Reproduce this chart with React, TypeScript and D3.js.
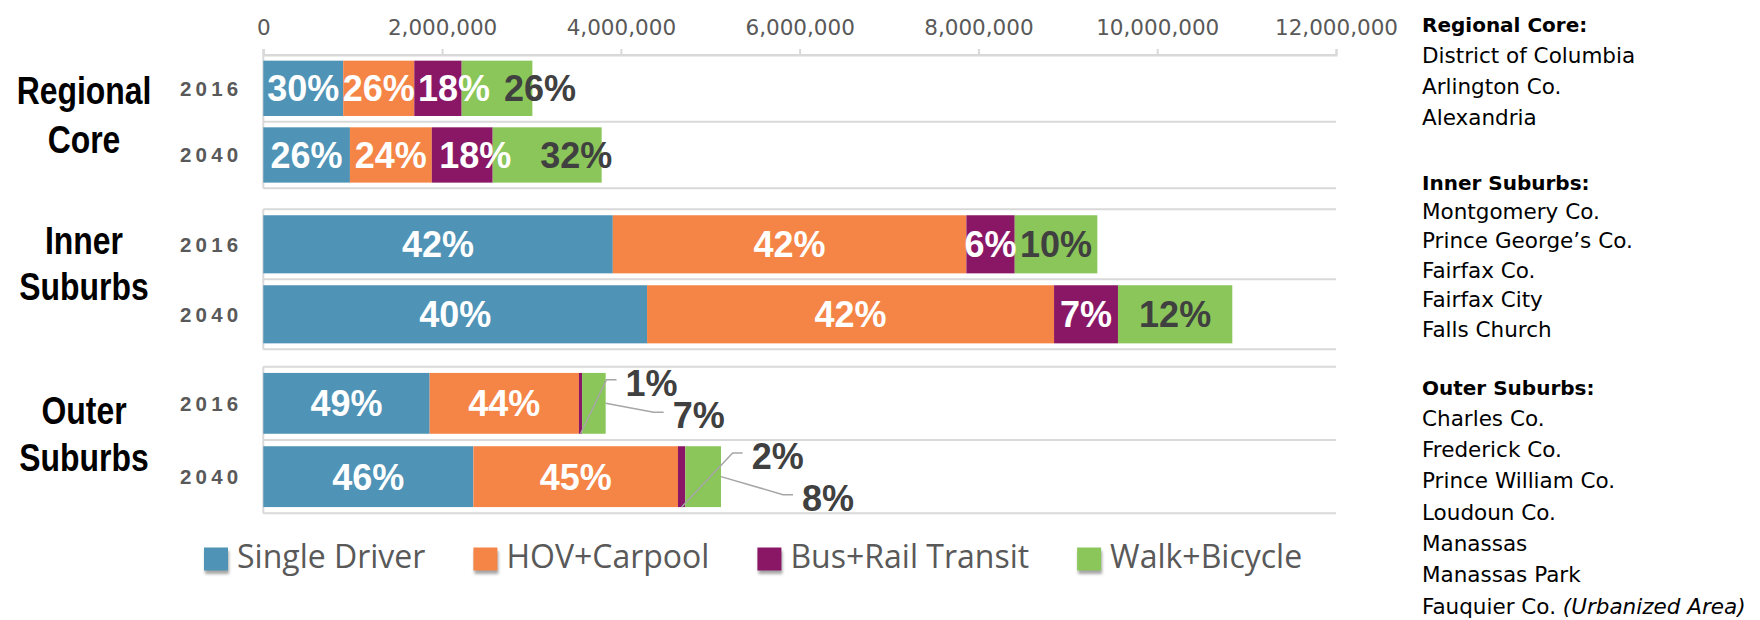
import React, { useEffect, useRef } from 'react';
import * as d3 from 'd3';

// daily trips by mode, [2016, 2040] for each region
const regions = ['Regional Core', 'Inner Suburbs', 'Outer Suburbs'];
const regionLines = [['Regional', 'Core'], ['Inner', 'Suburbs'], ['Outer', 'Suburbs']];
const years = ['2016', '2040'];
const modes = ['Single Driver', 'HOV+Carpool', 'Bus+Rail Transit', 'Walk+Bicycle'];
const modeColors = ['#4f93b6', '#f58546', '#8a1766', '#8bc65a'];

const singleDriver = [[894000, 969000], [3910000, 4293000], [1861000, 2350000]];
const hovCarpool = [[795000, 916000], [3955000, 4553000], [1670000, 2289000]];
const busRail = [[530000, 681000], [541000, 715000], [35000, 82000]];
const walkBike = [[791000, 1219000], [924000, 1279000], [264000, 399000]];

const xTicks = [0, 2000000, 4000000, 6000000, 8000000, 10000000, 12000000];

const coreAreas = ['District of Columbia', 'Arlington Co.', 'Alexandria'];
const innerAreas = ['Montgomery Co.', 'Prince George’s Co.', 'Fairfax Co.', 'Fairfax City', 'Falls Church'];
const outerAreas = ['Charles Co.', 'Frederick Co.', 'Prince William Co.', 'Loudoun Co.', 'Manassas', 'Manassas Park', 'Fauquier Co.'];
const outerNote = '(Urbanized Area)';

// labels that were dragged off-centre in the original
const labelNudge = [
  { region: 0, year: '2016', mode: 2, dx: 16 },
  { region: 0, year: '2016', mode: 3, dx: 43 },
  { region: 0, year: '2040', mode: 2, dx: 13 },
  { region: 0, year: '2040', mode: 3, dx: 29 },
];
// small segments labelled outside the bar with a leader line
const callouts = [
  { region: 2, year: '2016', mode: 2, dx: 45, dy: -51 },
  { region: 2, year: '2016', mode: 3, dx: 67, dy: 12 },
  { region: 2, year: '2040', mode: 2, dx: 70, dy: -51 },
  { region: 2, year: '2040', mode: 3, dx: 81, dy: 21 },
];

const W = 1760;
const H = 620;
const panelTop = [55, 209.3, 366.7];
const panelHeight = [133.3, 140, 146.6];
// baseline offsets of the two name lines from the panel middle
const nameOffset = [[-18, 31], [-25, 21], [-16, 31]];
const grid = '#d9d9d9';
const dark = '#404040';
const grey = '#595959';

const App = () => {
  const ref = useRef(null);

  useEffect(() => {
    const svg = d3.select(ref.current);
    svg.selectAll('*').remove();

    const x = d3.scaleLinear().domain([0, 12000000]).range([263.3, 1336]);
    const fmtPct = d3.format('.0%');

    const defs = svg.append('defs');
    defs.append('filter').attr('id', 'soft')
      .attr('x', '-50%').attr('y', '-50%').attr('width', '200%').attr('height', '200%')
      .append('feGaussianBlur').attr('stdDeviation', 1.6);

    // top value axis
    const axis = svg.append('g')
      .attr('transform', `translate(0,${panelTop[0]})`)
      .call(d3.axisTop(x).tickValues(xTicks).tickFormat(d3.format(',')).tickSize(6).tickPadding(14));
    axis.select('.domain').attr('stroke', grid).attr('stroke-width', 2);
    axis.selectAll('.tick line').attr('stroke', grid).attr('stroke-width', 2);
    axis.selectAll('.tick text')
      .attr('fill', grey)
      .attr('font-family', 'DejaVu Sans')
      .attr('font-size', 21.5);

    regions.forEach((region, ri) => {
      const top = panelTop[ri];
      const h = panelHeight[ri];
      const y = d3.scaleBand().domain(years).range([top, top + h]).paddingInner(0.17).paddingOuter(0.085);
      const g = svg.append('g');

      // category grid lines
      [top, top + h / 2, top + h].forEach(ly => {
        g.append('line')
          .attr('x1', x(0)).attr('x2', x(12000000))
          .attr('y1', ly).attr('y2', ly)
          .attr('stroke', grid).attr('stroke-width', 2);
      });
      g.append('line')
        .attr('x1', x(0)).attr('x2', x(0))
        .attr('y1', top - (ri === 0 ? 6 : 0)).attr('y2', top + h)
        .attr('stroke', grid).attr('stroke-width', 2);

      const rows = years.map((yr, yi) => ({
        year: yr,
        [modes[0]]: singleDriver[ri][yi],
        [modes[1]]: hovCarpool[ri][yi],
        [modes[2]]: busRail[ri][yi],
        [modes[3]]: walkBike[ri][yi],
      }));
      const series = d3.stack().keys(modes)(rows);

      series.forEach((s, mi) => {
        g.selectAll(null)
          .data(s)
          .enter()
          .append('rect')
          .attr('x', d => x(d[0]))
          .attr('y', d => y(d.data.year))
          .attr('width', d => x(d[1]) - x(d[0]))
          .attr('height', y.bandwidth())
          .attr('fill', modeColors[mi]);
      });

      // data labels
      series.forEach((s, mi) => {
        s.forEach(d => {
          const total = d3.sum(modes, m => d.data[m]);
          const label = fmtPct((d[1] - d[0]) / total);
          const yr = d.data.year;
          const by = y(yr);
          const call = callouts.find(c => c.region === ri && c.year === yr && c.mode === mi);
          if (call) {
            const ax = mi === 3 ? x(d[1]) : (x(d[0]) + x(d[1])) / 2;
            const ay = mi === 3 ? by + y.bandwidth() / 2 : by + y.bandwidth();
            const lx = ax + call.dx;
            const ly = ay + call.dy;
            g.append('path')
              .attr('d', d3.line()([[ax, ay], [lx - 19, ly - 3], [lx - 9, ly - 3]]))
              .attr('fill', 'none')
              .attr('stroke', '#a6a6a6')
              .attr('stroke-width', 1.5);
            g.append('text')
              .attr('x', lx).attr('y', ly).attr('dy', '0.36em')
              .attr('font-family', 'Liberation Sans').attr('font-weight', 'bold')
              .attr('font-size', 36).attr('fill', dark)
              .text(label);
            return;
          }
          const nudge = labelNudge.find(n => n.region === ri && n.year === yr && n.mode === mi);
          g.append('text')
            .attr('x', (x(d[0]) + x(d[1])) / 2 + (nudge ? nudge.dx : 0))
            .attr('y', by + y.bandwidth() / 2)
            .attr('dy', '0.36em')
            .attr('text-anchor', 'middle')
            .attr('font-family', 'Liberation Sans').attr('font-weight', 'bold')
            .attr('font-size', 36)
            .attr('fill', mi === 3 ? dark : '#fff')
            .text(label);
        });
      });

      // year labels
      years.forEach(yr => {
        g.append('text')
          .attr('x', 180)
          .attr('y', y(yr) + y.bandwidth() / 2)
          .attr('dy', '0.36em')
          .attr('font-family', 'Liberation Sans').attr('font-weight', 'bold')
          .attr('font-size', 20.5).attr('letter-spacing', 4.2)
          .attr('fill', grey)
          .text(yr);
      });

      // region name, condensed bold
      const mid = top + h / 2;
      regionLines[ri].forEach((t, i) => {
        g.append('text')
          .attr('transform', `translate(84,${mid + nameOffset[ri][i]}) scale(0.84,1)`)
          .attr('text-anchor', 'middle')
          .attr('font-family', 'Liberation Sans').attr('font-weight', 'bold')
          .attr('font-size', 38).attr('fill', '#000')
          .text(t);
      });
    });

    // legend
    const lg = svg.append('g');
    let lx = 204;
    modes.forEach((m, mi) => {
      lg.append('rect')
        .attr('x', lx + 1).attr('y', 551).attr('width', 24).attr('height', 23)
        .attr('fill', '#000').attr('opacity', 0.35).attr('filter', 'url(#soft)');
      lg.append('rect')
        .attr('x', lx).attr('y', 547.5).attr('width', 24).attr('height', 23)
        .attr('fill', modeColors[mi]);
      const t = lg.append('text')
        .attr('x', lx + 33).attr('y', 568)
        .attr('font-family', 'Open Sans').attr('font-size', 32)
        .attr('fill', grey)
        .text(m);
      const w = (t.node() as SVGTextElement).getComputedTextLength();
      lx = lx + 33 + w + 48;
    });

    // area list on the right
    const groups = [
      { title: 'Regional Core:', items: coreAreas, y: 24, step: 31 },
      { title: 'Inner Suburbs:', items: innerAreas, y: 182, step: 29.4 },
      { title: 'Outer Suburbs:', items: outerAreas, y: 387, step: 31.3 },
    ];
    const side = svg.append('g').attr('fill', '#000').attr('font-family', 'DejaVu Sans');
    groups.forEach(grp => {
      side.append('text')
        .attr('x', 1422).attr('y', grp.y + 7.5)
        .attr('font-weight', 'bold').attr('font-size', 20)
        .text(grp.title);
      grp.items.forEach((item, i) => {
        const t = side.append('text')
          .attr('x', 1422).attr('y', grp.y + (i + 1) * grp.step + 7.5)
          .attr('font-size', 21.5)
          .text(item);
        if (grp.items === outerAreas && i === outerAreas.length - 1) {
          t.append('tspan').attr('font-style', 'italic').text(' ' + outerNote);
        }
      });
    });
  }, []);

  return (
    <svg
      ref={ref}
      width={W}
      height={H}
      style={{ position: 'absolute', left: 0, top: 0, background: '#fff' }}
    />
  );
};

export default App;
